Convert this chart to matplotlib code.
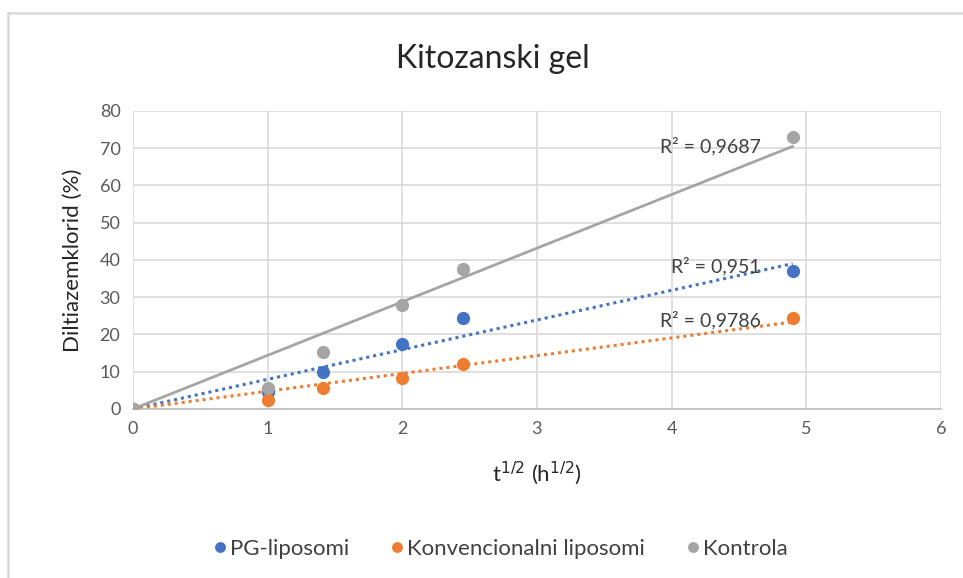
import numpy as np
import matplotlib
matplotlib.use('Agg')
import matplotlib.pyplot as plt
from matplotlib.lines import Line2D

# Data
hours = [0, 1, 2, 4, 6, 24]
pg_liposomi = [0, 4.5, 10.0, 17.5, 24.4, 37.0]
konv_liposomi = [0, 2.4, 5.7, 8.4, 12.1, 24.4]
kontrola = [0, 5.6, 15.2, 27.9, 37.5, 73.0]
r2_labels = ['R² = 0,951', 'R² = 0,9786', 'R² = 0,9687']
series_names = ['PG-liposomi', 'Konvencionalni liposomi', 'Kontrola']

x = np.sqrt(hours)

# Styles
colors = ['#4472C4', '#ED7D31', '#A5A5A5']
trend_styles = [(0, (1, 1.3)), (0, (1, 1.3)), '-']
r2_pos = [(4.33, 38.4), (4.29, 23.8), (4.29, 70.5)]

plt.rcParams['font.family'] = ['Lato', 'DejaVu Sans']

fig = plt.figure(figsize=(9.63, 5.78), dpi=100)
ax = fig.add_axes([0.138, 0.2924, 0.839, 0.5156])

for i, y in enumerate([pg_liposomi, konv_liposomi, kontrola]):
    y = np.array(y)
    # linear trendline forced through the origin
    slope = np.sum(x * y) / np.sum(x * x)
    xt = np.array([0, x.max()])
    lw = 2.0 if trend_styles[i] == '-' else 2.2
    ax.plot(xt, slope * xt, color=colors[i], ls=trend_styles[i], lw=lw, zorder=2)

for i, y in enumerate([pg_liposomi, konv_liposomi, kontrola]):
    ax.plot(x, y, 'o', color=colors[i], ms=8.5, zorder=3, label=series_names[i])

for i in range(3):
    ax.text(r2_pos[i][0], r2_pos[i][1], r2_labels[i], ha='center', va='center',
            fontsize=14, color='#404040', zorder=4)

# Axes
ax.set_xlim(0, 6)
ax.set_ylim(0, 80)
ax.set_xticks(range(0, 7))
ax.set_yticks(range(0, 81, 10))
ax.grid(True, color='#D9D9D9', lw=1.2)
ax.set_axisbelow(True)
for s in ['top', 'right', 'left']:
    ax.spines[s].set_visible(False)
ax.spines['bottom'].set_color('#BFBFBF')
ax.spines['bottom'].set_linewidth(1.2)
ax.tick_params(length=0, labelsize=13, colors='#595959', pad=9)

ax.set_xlabel(r't$^{1/2}$ (h$^{1/2}$)', fontsize=16, color='#262626', labelpad=16)
ax.set_ylabel('Diltiazemklorid (%)', fontsize=16, color='#262626', labelpad=12)
fig.text(0.512, 0.898, 'Kitozanski gel', ha='center', va='center',
         fontsize=23, color='#262626')

fig.legend(loc='center', bbox_to_anchor=(0.52, 0.05), ncol=3, frameon=False,
           fontsize=16, handlelength=0.5, handletextpad=0.2, columnspacing=1.9,
           labelcolor='#404040', markerscale=0.8)

# Outer chart border (only top and left visible in the crop)
fig.add_artist(Line2D([8 / 963, 1], [1 - 13 / 578, 1 - 13 / 578],
                      transform=fig.transFigure, color='#D9D9D9', lw=1.8))
fig.add_artist(Line2D([8 / 963, 8 / 963], [0, 1 - 13 / 578],
                      transform=fig.transFigure, color='#D9D9D9', lw=1.8))

plt.savefig('out.png', dpi=100)
plt.close()
